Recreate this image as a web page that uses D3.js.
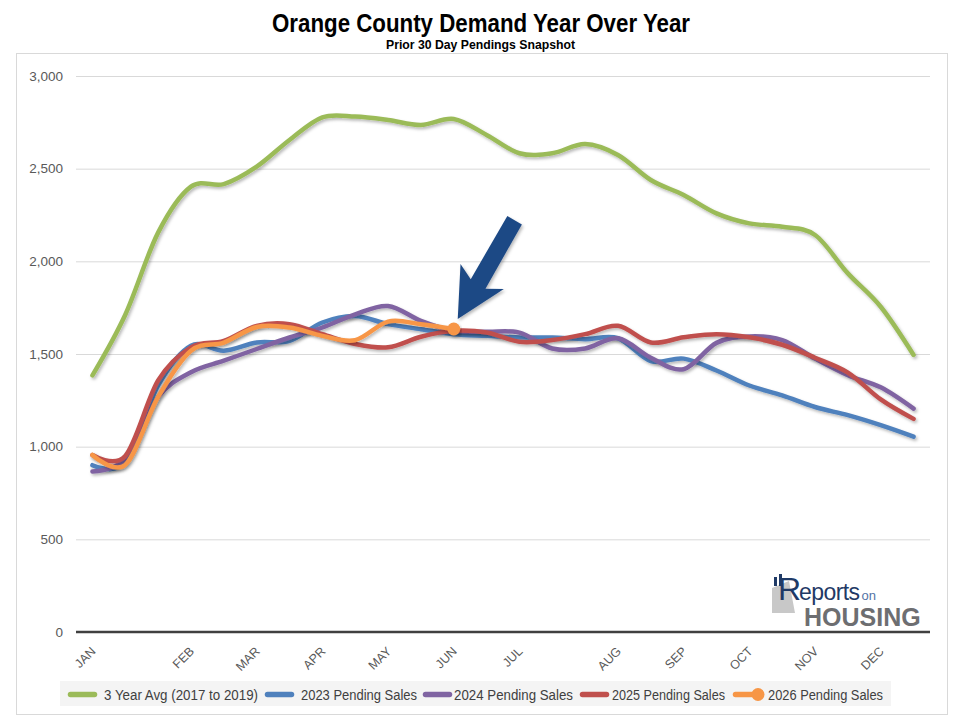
<!DOCTYPE html>
<html>
<head>
<meta charset="utf-8">
<script src="https://cdn.jsdelivr.net/npm/d3@7"></script>
<style>
  body { margin: 0; background: #fff; }
  text { font-family: "Liberation Sans", Arial, sans-serif; }
</style>
</head>
<body>
<svg id="chart"></svg>
<script>
// tick labels on the 26 snapshot points (blank = unlabeled snapshot)
const tickLabels = ["JAN", "", "", "FEB", "", "MAR", "", "APR", "", "MAY", "", "JUN", "", "JUL",
                    "", "", "AUG", "", "SEP", "", "OCT", "", "NOV", "", "DEC", ""];

const avg2017to2019 = [1385, 1712, 2155, 2403, 2417, 2511, 2655, 2777, 2781, 2763, 2736, 2768, 2682,
                       2583, 2583, 2633, 2574, 2439, 2358, 2259, 2205, 2187, 2142, 1935, 1755, 1495];
const sales2023 = [900, 915, 1330, 1545, 1518, 1562, 1571, 1670, 1705, 1661, 1634, 1607, 1598,
                   1589, 1589, 1580, 1585, 1462, 1475, 1411, 1330, 1277, 1214, 1170, 1116, 1054];
const sales2024 = [866, 935, 1268, 1402, 1464, 1527, 1589, 1643, 1714, 1759, 1679, 1625, 1620,
                   1615, 1530, 1530, 1585, 1480, 1418, 1560, 1595, 1575, 1475, 1385, 1320, 1205];
const sales2025 = [955, 950, 1357, 1536, 1571, 1652, 1661, 1607, 1554, 1536, 1593, 1625, 1616,
                   1566, 1575, 1607, 1652, 1562, 1590, 1607, 1590, 1550, 1480, 1400, 1255, 1150];
const sales2026 = [955, 902, 1268, 1518, 1562, 1646, 1643, 1598, 1575, 1675, 1661, 1635];

const seriesNames = ["3 Year Avg (2017 to 2019)", "2023 Pending Sales", "2024 Pending Sales",
                     "2025 Pending Sales", "2026 Pending Sales"];
const seriesValues = [avg2017to2019, sales2023, sales2024, sales2025, sales2026];
const seriesColors = ["#9BBB59", "#4F81BD", "#8064A2", "#C0504D", "#F79646"];
const yTicks = [0, 500, 1000, 1500, 2000, 2500, 3000];

const width = 960, height = 724;
const svg = d3.select("#chart").attr("width", width).attr("height", height);

// soft shadow like the spreadsheet line effect
const defs = svg.append("defs");
defs.append("filter").attr("id", "shadow")
    .attr("x", "-10%").attr("y", "-10%").attr("width", "120%").attr("height", "130%")
  .append("feDropShadow")
    .attr("dx", 1.5).attr("dy", 2).attr("stdDeviation", 1.4)
    .attr("flood-color", "#000").attr("flood-opacity", 0.28);

// outer frame
svg.append("rect")
    .attr("x", 16.5).attr("y", 53.5).attr("width", 931).attr("height", 661)
    .attr("fill", "none").attr("stroke", "#d9d9d9");

// titles (squeezed to look like a narrow bold face)
svg.append("text")
    .attr("x", 272).attr("y", 32)
    .attr("textLength", 418).attr("lengthAdjust", "spacingAndGlyphs")
    .style("font-weight", "bold").style("font-size", "25px").style("fill", "#000")
    .text("Orange County Demand Year Over Year");
svg.append("text")
    .attr("x", 386).attr("y", 49)
    .attr("textLength", 189).attr("lengthAdjust", "spacingAndGlyphs")
    .style("font-weight", "bold").style("font-size", "12px").style("fill", "#000")
    .text("Prior 30 Day Pendings Snapshot");

const x = d3.scaleBand()
    .domain(d3.range(tickLabels.length))
    .range([76, 930]);
const y = d3.scaleLinear()
    .domain([0, 3000])
    .range([632, 76]);
const cx = i => x(i) + x.bandwidth() / 2;

// gridlines + y labels
const yAxis = d3.axisLeft(y)
    .tickValues(yTicks)
    .tickSize(-(930 - 76))
    .tickPadding(13)
    .tickFormat(d3.format(","));
svg.append("g")
    .attr("transform", "translate(76,0)")
    .call(yAxis)
    .call(g => g.select(".domain").remove())
    .call(g => g.selectAll(".tick line").attr("stroke", "#d9d9d9"))
    .call(g => g.selectAll(".tick text")
        .style("font-size", "13.5px").style("fill", "#595959")
        .style("font-family", "'Liberation Sans', Arial, sans-serif"));

// zero axis line
svg.append("line")
    .attr("x1", 76).attr("x2", 930)
    .attr("y1", y(0)).attr("y2", y(0))
    .attr("stroke", "#404040").attr("stroke-width", 2.5);

// month labels
svg.append("g").selectAll("text")
    .data(tickLabels.map((t, i) => ({ t, i })).filter(d => d.t !== ""))
    .join("text")
    .attr("transform", d => `translate(${cx(d.i) + 4},652) rotate(-45)`)
    .attr("text-anchor", "end")
    .style("font-size", "12.5px").style("fill", "#595959")
    .text(d => d.t);

// lines
const line = d3.line()
    .defined(d => d != null)
    .x((d, i) => cx(i))
    .y(d => y(d))
    .curve(d3.curveCatmullRom.alpha(0));

svg.append("g").selectAll("path")
    .data(seriesValues)
    .join("path")
    .attr("d", d => line(d))
    .attr("fill", "none")
    .attr("stroke", (d, i) => seriesColors[i])
    .attr("stroke-width", 4.5)
    .attr("stroke-linecap", "round")
    .attr("stroke-linejoin", "round")
    .attr("filter", "url(#shadow)");

// marker on latest 2026 snapshot
const lastIdx = sales2026.length - 1;
const px = cx(lastIdx), py = y(sales2026[lastIdx]);
svg.append("circle")
    .attr("cx", px).attr("cy", py).attr("r", 6.5)
    .attr("fill", seriesColors[4])
    .attr("filter", "url(#shadow)");

// block arrow pointing at latest snapshot
const tip = [px + 4, py - 10];
const ang = Math.atan2(-99, 57); // direction from tip toward tail
const ux = Math.cos(ang), uy = Math.sin(ang);
const vx = -uy, vy = ux;
const arrowShape = [[0, 0], [49, -25], [41, -8.6], [114, -8.4], [114, 8.4], [40, 9], [49, 25]];
svg.append("path")
    .attr("d", "M" + arrowShape.map(([u, v]) =>
        [tip[0] + u * ux + v * vx, tip[1] + u * uy + v * vy].join(",")).join("L") + "Z")
    .attr("fill", "#1F4A85")
    .attr("filter", "url(#shadow)");

// legend
const legend = svg.append("g");
legend.append("rect")
    .attr("x", 60).attr("y", 681).attr("width", 831).attr("height", 25)
    .attr("fill", "#f4f4f4");
const swatchX = [68, 265, 423, 580, 733];
const labelX = [104, 301, 454, 612, 768];
const labelW = [154, 116, 119, 113, 115];
seriesNames.forEach((name, i) => {
  const g = legend.append("g").attr("transform", `translate(${swatchX[i]},694.5)`);
  g.append("line")
      .attr("x1", 2.5).attr("x2", 26.5).attr("y1", 0).attr("y2", 0)
      .attr("stroke", seriesColors[i]).attr("stroke-width", 5.5)
      .attr("stroke-linecap", "round");
  if (i === 4) {
    g.append("circle").attr("cx", 25).attr("cy", 0).attr("r", 6.5).attr("fill", seriesColors[i]);
  }
  legend.append("text")
      .attr("x", labelX[i]).attr("y", 699.5)
      .attr("textLength", labelW[i]).attr("lengthAdjust", "spacingAndGlyphs")
      .style("font-size", "14px").style("fill", "#404040")
      .text(name);
});

// Reports on Housing logo (one text element, two lines)
const logo = svg.append("g");
logo.append("path")
    .attr("d", "M772,588 L789,581 L795,613 L772,613 Z")
    .attr("fill", "#c8c8c8");
logo.append("rect").attr("x", 774).attr("y", 577).attr("width", 3).attr("height", 9).attr("fill", "#1F3A66");
logo.append("rect").attr("x", 779).attr("y", 574).attr("width", 3).attr("height", 12).attr("fill", "#1F3A66");
const brand = logo.append("text")
    .attr("x", 778).attr("y", 600)
    .style("fill", "#1F3A66");
brand.append("tspan").style("font-size", "32px").text("R");
brand.append("tspan").attr("dx", -2).style("font-size", "23px").style("letter-spacing", "-0.6px").text("eports");
brand.append("tspan").attr("dx", 2).style("font-size", "13px").style("fill", "#5473A6").text("on");
brand.append("tspan")
    .attr("x", 804).attr("y", 626)
    .style("font-size", "25px").style("font-weight", "bold").style("fill", "#6d6e71")
    .text("HOUSING");
</script>
</body>
</html>
